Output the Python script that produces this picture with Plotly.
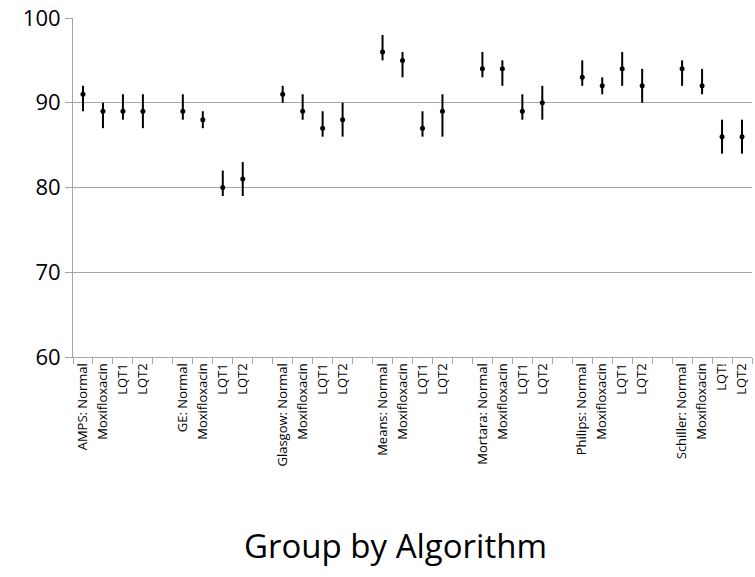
import plotly.graph_objects as go

algorithms = ["AMPS", "GE", "Glasgow", "Means", "Mortara", "Philips", "Schiller"]
conditions = ["Normal", "Moxifloxacin", "LQT1", "LQT2"]
tick_labels = [
    "AMPS: Normal", "Moxifloxacin", "LQT1", "LQT2",
    "GE: Normal", "Moxifloxacin", "LQT1", "LQT2",
    "Glasgow: Normal", "Moxifloxacin", "LQT1", "LQT2",
    "Means: Normal", "Moxifloxacin", "LQT1", "LQT2",
    "Mortara: Normal", "Moxifloxacin", "LQT1", "LQT2",
    "Philips: Normal", "Moxifloxacin", "LQT1", "LQT2",
    "Schiller: Normal", "Moxifloxacin", "LQT!", "LQT2",
]
values = [91, 89, 89, 89,
          89, 88, 80, 81,
          91, 89, 87, 88,
          96, 95, 87, 89,
          94, 94, 89, 90,
          93, 92, 94, 92,
          94, 92, 86, 86]
lower = [89, 87, 88, 87,
         88, 87, 79, 79,
         90, 88, 86, 86,
         95, 93, 86, 86,
         93, 92, 88, 88,
         92, 91, 92, 90,
         92, 91, 84, 84]
upper = [92, 90, 91, 91,
         91, 89, 82, 83,
         92, 91, 89, 90,
         98, 96, 89, 91,
         96, 95, 91, 92,
         95, 93, 96, 94,
         95, 94, 88, 88]

n_cond = len(conditions)
slot = n_cond + 1
x = []
for g in range(len(algorithms)):
    for j in range(n_cond):
        x.append(g * slot + j + 0.5)
total_slots = len(algorithms) * slot - 1

err_plus = [u - v for u, v in zip(upper, values)]
err_minus = [v - l for v, l in zip(values, lower)]

grid = "#A6A6A6"
font_main = "'Open Sans', sans-serif"

fig = go.Figure()
fig.add_trace(go.Scatter(
    x=x, y=values, mode="markers",
    marker=dict(color="black", size=5),
    error_y=dict(type="data", symmetric=False, array=err_plus, arrayminus=err_minus,
                 color="black", thickness=2, width=0),
    showlegend=False, hoverinfo="y",
))

fig.update_layout(
    width=755, height=577,
    margin=dict(l=73, r=3, t=18, b=220),
    paper_bgcolor="white", plot_bgcolor="white",
    xaxis=dict(
        range=[0, total_slots], automargin=False,
        tickmode="array", tickvals=x, ticktext=tick_labels,
        tickangle=-90, ticks="", showgrid=False, zeroline=False,
        showline=True, linecolor=grid, linewidth=1,
        ticklabeloverflow="allow",
        tickfont=dict(family=font_main, size=13, color="black"),
        minor=dict(tick0=0, dtick=1, ticks="outside", ticklen=6, tickcolor=grid, showgrid=False),
    ),
    yaxis=dict(
        range=[60, 100], tickvals=[60, 70, 80, 90, 100], automargin=False,
        showgrid=True, gridcolor=grid, gridwidth=1, zeroline=False,
        showline=True, linecolor=grid, linewidth=1,
        ticks="outside", ticklen=7, tickcolor=grid,
        tickfont=dict(family=font_main, size=22, color="black"),
    ),
    annotations=[dict(
        text="Group by Algorithm", xref="paper", yref="paper",
        x=0.475, y=-0.557, xanchor="center", yanchor="middle", showarrow=False,
        font=dict(family=font_main, size=33, color="black"),
    )],
)

fig.write_html("out.html", config={"displayModeBar": False},
               post_script="document.body.style.margin='0';")
